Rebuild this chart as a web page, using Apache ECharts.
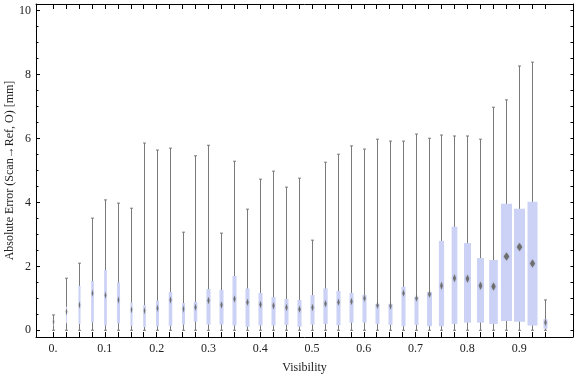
<!DOCTYPE html>
<html>
<head>
<meta charset="utf-8">
<script src="https://cdn.jsdelivr.net/npm/echarts@6/dist/echarts.min.js"></script>
<style>html,body{margin:0;padding:0;background:#fff}#c{width:576px;height:377px}</style>
</head>
<body>
<div id="c"></div>
<script>
// Visibility bin centres
const visibility = [0.000,0.025,0.050,0.075,0.100,0.125,0.150,0.175,0.200,0.225,0.250,0.275,0.300,0.325,0.350,0.375,0.400,0.425,0.450,0.475,0.500,0.525,0.550,0.575,0.600,0.625,0.650,0.675,0.700,0.725,0.750,0.775,0.800,0.825,0.850,0.875,0.900,0.925,0.950];
const whiskerLow = [0,0,0,0,0,0,0,0,0,0,0,0,0,0,0,0,0,0,0,0,0,0,0,0,0,0,0,0,0,0,0,0,0,0,0,0,0,0,0];
const quartile1 = [0.15,0.22,0.20,0.25,0.15,0.22,0.14,0.10,0.12,0.14,0.18,0.27,0.18,0.18,0.15,0.11,0.15,0.15,0.17,0.11,0.18,0.20,0.16,0.24,0.24,0.20,0.17,0.13,0.17,0.13,0.13,0.20,0.24,0.24,0.20,0.29,0.27,0.15,0.05];
const medianVal = [0.27,0.58,0.79,1.16,1.10,0.95,0.64,0.61,0.69,0.95,0.67,0.72,0.93,0.79,0.98,0.88,0.81,0.77,0.71,0.66,0.71,0.83,0.88,0.90,1.00,0.78,0.76,1.16,1.00,1.13,1.39,1.63,1.61,1.39,1.37,2.31,2.61,2.09,0.24];
const quartile3 = [0.35,0.74,1.39,1.54,1.89,1.50,0.87,0.79,0.93,1.20,0.85,0.89,1.29,1.26,1.70,1.31,1.17,1.04,0.98,0.95,1.10,1.31,1.23,1.17,1.11,0.82,0.82,1.36,1.05,1.20,2.80,3.24,2.73,2.26,2.20,3.96,3.80,4.02,0.35];
const whiskerHigh = [0.48,1.63,2.10,3.51,4.08,3.98,3.82,5.86,5.64,5.70,3.07,5.46,5.79,3.04,5.29,3.79,4.73,4.98,4.48,4.76,2.82,5.26,5.51,5.77,5.67,5.98,5.92,5.92,6.14,6.01,6.11,6.08,6.08,5.98,6.98,7.21,8.27,8.39,0.95];
// relative box width (fraction of the 0.025 bin)
const binWeight = [0.05,0.08,0.16,0.21,0.21,0.23,0.16,0.2,0.23,0.27,0.23,0.27,0.31,0.31,0.31,0.31,0.31,0.31,0.31,0.31,0.31,0.33,0.31,0.31,0.31,0.31,0.31,0.31,0.31,0.38,0.4,0.44,0.54,0.54,0.67,0.85,0.85,0.77,0.31];

const xLabelValues = [0,0.1,0.2,0.3,0.4,0.5,0.6,0.7,0.8,0.9];
const yLabelValues = [0,2,4,6,8,10];
const yMinorValues = [];
for (let v = 0; v <= 10.001; v += 0.5) yMinorValues.push(+v.toFixed(1));

const data = visibility.map((x, i) => [x, whiskerLow[i], quartile1[i], medianVal[i], quartile3[i], whiskerHigh[i], binWeight[i] * 0.025]);

const XMIN = -0.033, XMAX = 1.004, YMIN = -0.21, YMAX = 10.21;
const FONT = 'Liberation Serif';
const whiskerColor = '#7a7a7a';
const boxColor = '#cbd2f5';
const medColor = '#6e6e6e';

function renderItem(params, api) {
  const x = api.value(0);
  const pLo = api.coord([x, api.value(1)]);
  const pQ1 = api.coord([x, api.value(2)]);
  const pMed = api.coord([x, api.value(3)]);
  const pQ3 = api.coord([x, api.value(4)]);
  const pHi = api.coord([x, api.value(5)]);
  const w = Math.max(api.size([api.value(6), 0])[0], 0.8);
  const cx = Math.round(pMed[0]) + 0.5;
  const children = [];
  children.push({type:'line', shape:{x1:cx, y1:pLo[1], x2:cx, y2:pHi[1]}, style:{stroke:whiskerColor, lineWidth:1}});
  children.push({type:'line', shape:{x1:cx-1.5, y1:pHi[1], x2:cx+1.5, y2:pHi[1]}, style:{stroke:whiskerColor, lineWidth:1}});
  children.push({type:'line', shape:{x1:cx-1.5, y1:pLo[1], x2:cx+1.5, y2:pLo[1]}, style:{stroke:whiskerColor, lineWidth:1}});
  children.push({type:'rect', shape:{x:cx - w/2, y:pQ3[1], width:w, height:pQ1[1]-pQ3[1]}, style:{fill:boxColor}});
  const dw = Math.max(Math.min(w * 0.5, 6.5), 1.4);
  const dh = w > 5 ? 8 : 7;
  children.push({type:'polygon', shape:{points:[[cx, pMed[1]-dh/2],[cx+dw/2, pMed[1]],[cx, pMed[1]+dh/2],[cx-dw/2, pMed[1]]]}, style:{fill:medColor, shadowBlur:1.5, shadowColor:'rgba(90,90,90,0.6)'}});
  return {type:'group', children};
}

const axisLineStyle = {show:true, onZero:false, lineStyle:{color:'#000', width:1}};
const chart = echarts.init(document.getElementById('c'), null, {renderer:'canvas'});
chart.setOption({
  animation:false,
  grid:{left:36, right:3, top:4, bottom:40, containLabel:false, outerBoundsMode:'none'},
  xAxis:[
    {type:'value', position:'bottom', min:XMIN, max:XMAX, splitLine:{show:false},
     axisLine:axisLineStyle,
     axisTick:{show:true, inside:true, length:5, customValues:visibility, lineStyle:{color:'#000'}},
     axisLabel:{show:true, customValues:xLabelValues, margin:6, fontFamily:FONT, fontSize:12, color:'#222',
       formatter:v => (Math.abs(v) < 1e-9 ? '0.' : String(+v.toFixed(1)))},
     name:'Visibility', nameLocation:'middle', nameGap:25, nameMoveOverlap:false,
     nameTextStyle:{fontFamily:FONT, fontSize:12, color:'#222'}},
    {type:'value', position:'top', min:XMIN, max:XMAX, splitLine:{show:false},
     axisLine:axisLineStyle,
     axisTick:{show:true, inside:true, length:5, customValues:visibility, lineStyle:{color:'#000'}},
     axisLabel:{show:false}}
  ],
  yAxis:[
    {type:'value', position:'left', min:YMIN, max:YMAX, splitLine:{show:false},
     axisLine:axisLineStyle,
     axisTick:{show:true, inside:true, length:4, customValues:yLabelValues, lineStyle:{color:'#000'}},
     axisLabel:{show:true, customValues:yLabelValues, margin:5, fontFamily:FONT, fontSize:12, color:'#222'},
     name:'Absolute Error (Scan\u2192Ref, O) [mm]', nameLocation:'middle', nameGap:20, nameRotate:90, nameMoveOverlap:false,
     nameTextStyle:{fontFamily:FONT, fontSize:12, color:'#222'}},
    {type:'value', position:'left', min:YMIN, max:YMAX, splitLine:{show:false},
     axisLine:{show:false, onZero:false},
     axisTick:{show:true, inside:true, length:2.5, customValues:yMinorValues, lineStyle:{color:'#000'}},
     axisLabel:{show:false}},
    {type:'value', position:'right', min:YMIN, max:YMAX, splitLine:{show:false},
     axisLine:axisLineStyle,
     axisTick:{show:true, inside:true, length:2.5, customValues:yMinorValues, lineStyle:{color:'#000'}},
     axisLabel:{show:false}}
  ],
  series:[{
    type:'custom', xAxisIndex:0, yAxisIndex:0, renderItem, data,
    encode:{x:0, y:[1,2,3,4,5]}, clip:false
  }]
});
</script>
</body>
</html>
